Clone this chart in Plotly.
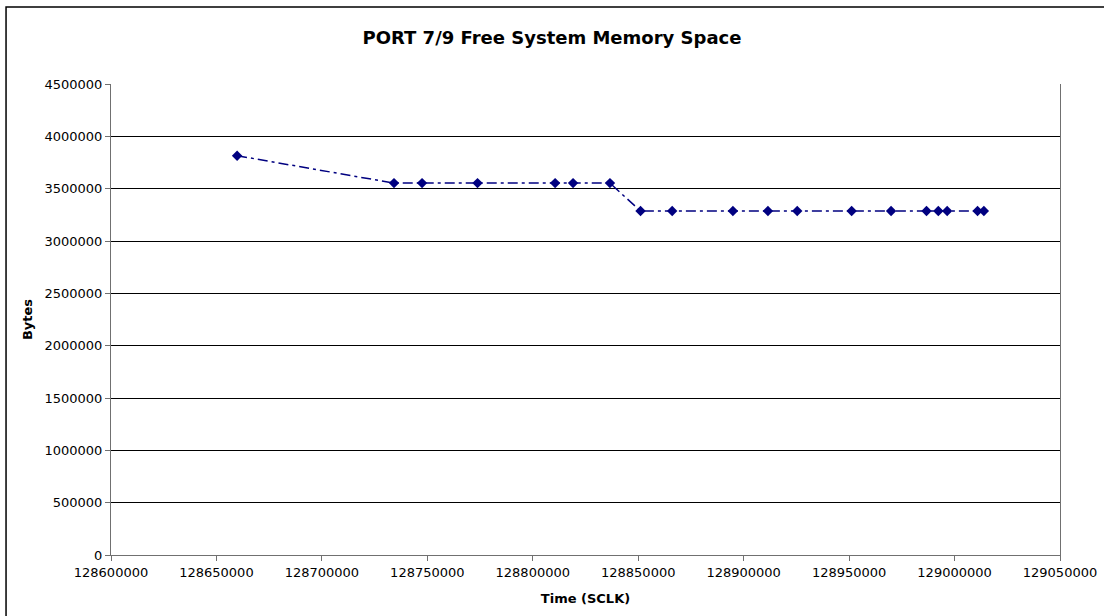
import plotly.graph_objects as go

time_sclk = [128659800, 128734200, 128747500, 128773800, 128810600, 128819100,
             128836600, 128851100, 128866100, 128894900, 128911500, 128925400,
             128951200, 128969900, 128986700, 128992300, 128996500, 129010900,
             129013900]
free_bytes = [3815000, 3553000, 3553000, 3553000, 3553000, 3553000,
              3553000, 3286000, 3286000, 3286000, 3286000, 3286000,
              3286000, 3286000, 3286000, 3286000, 3286000, 3286000,
              3286000]

x_ticks = [128600000 + 50000 * i for i in range(10)]
y_ticks = [500000 * i for i in range(10)]

font = "DejaVu Sans, Verdana, sans-serif"

fig = go.Figure()
fig.add_trace(go.Scatter(
    x=time_sclk, y=free_bytes, mode="lines+markers",
    line=dict(color="#000080", width=1.5, dash="10px,4px,3px,4px"),
    marker=dict(symbol="diamond", size=8, color="#000080"),
    showlegend=False,
))

fig.update_layout(
    width=1104, height=616,
    paper_bgcolor="white", plot_bgcolor="white",
    margin=dict(l=111, r=44, t=84, b=61, autoexpand=False),
    title=dict(text="<b>PORT 7/9 Free System Memory Space</b>", x=0.5, xanchor="center",
               y=1 - 38 / 616, yanchor="middle", font=dict(family=font, size=18, color="black")),
    font=dict(family=font, size=13, color="black"),
)
fig.update_xaxes(
    range=[128600000, 129050000], tickvals=x_ticks, ticktext=[str(v) for v in x_ticks],
    showgrid=False, zeroline=False, showline=True, linecolor="#707070", linewidth=1,
    ticks="outside", ticklen=5, tickcolor="#707070", automargin=False,
    title=dict(text="<b>Time (SCLK)</b>", font=dict(family=font, size=13), standoff=15),
)
fig.update_yaxes(
    range=[0, 4500000], tickvals=y_ticks, ticktext=[str(v) for v in y_ticks],
    showgrid=True, gridcolor="black", gridwidth=1, zeroline=False,
    showline=True, linecolor="#707070", linewidth=1, mirror=True,
    ticks="outside", ticklen=5, tickcolor="#707070", automargin=False,
    title=dict(text="<b>Bytes</b>", font=dict(family=font, size=13), standoff=8),
)
fig.add_shape(type="rect", xref="paper", yref="paper",
              x0=-0.1106, x1=1.06, y0=-0.14, y1=1.1635,
              line=dict(color="black", width=1.5), fillcolor="rgba(0,0,0,0)")

fig.write_html("out.html", config={"displayModeBar": False},
               post_script="document.body.style.margin='0';")
